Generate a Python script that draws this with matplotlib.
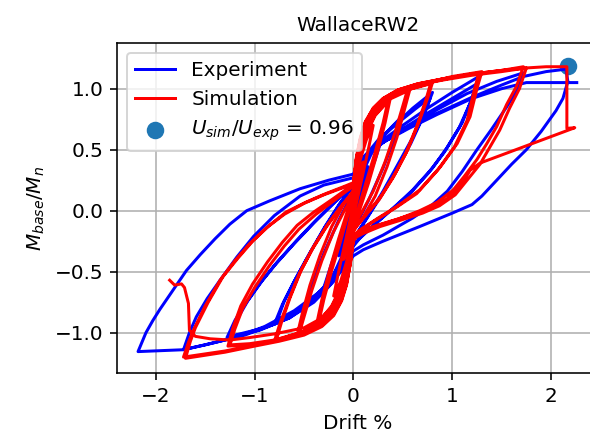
import numpy as np
import matplotlib
matplotlib.use("Agg")
import matplotlib.pyplot as plt

# Experiment cycles, (drift %, M_base/M_n)
exp_cycle_1 = [(0, 0), (0.05, 0.13), (0.1, 0.26), (0.15, 0.36), (0.1, 0.22), (0.04, 0.06), (0, -0.02),
               (-0.05, -0.15), (-0.1, -0.27), (-0.15, -0.37), (-0.1, -0.23), (-0.04, -0.06), (0, 0.02)]
exp_cycle_2 = [(0.05, 0.18), (0.12, 0.36), (0.2, 0.5), (0.3, 0.62), (0.22, 0.42), (0.12, 0.2), (0.04, 0.0),
               (0, -0.08), (-0.05, -0.2), (-0.12, -0.38), (-0.2, -0.52), (-0.3, -0.63), (-0.22, -0.43),
               (-0.12, -0.2), (-0.04, 0.0), (0, 0.08)]
exp_cycle_3 = [(0.05, 0.25), (0.12, 0.4), (0.25, 0.56), (0.38, 0.68), (0.5, 0.78), (0.42, 0.6), (0.3, 0.35),
               (0.15, 0.08), (0.05, -0.08), (0, -0.15), (-0.05, -0.28), (-0.12, -0.42), (-0.25, -0.58),
               (-0.38, -0.7), (-0.5, -0.8), (-0.42, -0.6), (-0.3, -0.35), (-0.15, -0.08), (-0.05, 0.08), (0, 0.15)]
exp_cycle_4 = [(0.05, 0.3), (0.12, 0.43), (0.25, 0.57), (0.4, 0.69), (0.6, 0.84), (0.8, 0.97), (0.72, 0.8),
               (0.6, 0.6), (0.45, 0.38), (0.3, 0.16), (0.15, -0.04), (0.05, -0.17), (0, -0.23), (-0.06, -0.35),
               (-0.15, -0.48), (-0.3, -0.63), (-0.5, -0.78), (-0.8, -0.93), (-0.72, -0.77), (-0.6, -0.58),
               (-0.45, -0.36), (-0.3, -0.15), (-0.15, 0.04), (-0.05, 0.15), (0, 0.2)]
exp_cycle_5 = [(0.05, 0.32), (0.12, 0.45), (0.25, 0.58), (0.42, 0.7), (0.62, 0.83), (0.78, 0.93), (0.7, 0.76),
               (0.58, 0.55), (0.43, 0.33), (0.28, 0.12), (0.13, -0.07), (0.04, -0.18), (0, -0.25),
               (-0.06, -0.37), (-0.15, -0.5), (-0.3, -0.65), (-0.5, -0.8), (-0.78, -0.92), (-0.7, -0.74),
               (-0.58, -0.55), (-0.43, -0.33), (-0.28, -0.12), (-0.13, 0.07), (-0.04, 0.17), (0, 0.22)]
exp_cycle_6 = [(0.05, 0.35), (0.15, 0.47), (0.3, 0.58), (0.5, 0.7), (0.75, 0.84), (1.0, 0.97), (1.27, 1.1),
               (1.2, 0.92), (1.1, 0.72), (0.95, 0.52), (0.8, 0.35), (0.6, 0.17), (0.4, 0.02), (0.2, -0.12),
               (0.07, -0.22), (0, -0.28), (-0.08, -0.42), (-0.2, -0.57), (-0.4, -0.74), (-0.65, -0.88),
               (-0.95, -0.98), (-1.28, -1.04), (-1.2, -0.9), (-1.1, -0.77), (-0.95, -0.6), (-0.8, -0.45),
               (-0.6, -0.27), (-0.4, -0.1), (-0.2, 0.06), (-0.05, 0.18), (0, 0.22)]
exp_cycle_7 = [(0.05, 0.34), (0.15, 0.45), (0.3, 0.56), (0.5, 0.67), (0.75, 0.8), (1.0, 0.92), (1.25, 1.04),
               (1.18, 0.88), (1.07, 0.68), (0.92, 0.48), (0.76, 0.31), (0.56, 0.13), (0.36, -0.01),
               (0.18, -0.14), (0.06, -0.23), (0, -0.29), (-0.08, -0.43), (-0.2, -0.58), (-0.4, -0.75),
               (-0.65, -0.88), (-0.95, -0.97), (-1.25, -1.03), (-1.17, -0.88), (-1.07, -0.74), (-0.92, -0.57),
               (-0.77, -0.42), (-0.57, -0.24), (-0.37, -0.07), (-0.18, 0.08), (-0.05, 0.19), (0, 0.23)]
exp_cycle_8 = [(0.05, 0.36), (0.15, 0.46), (0.3, 0.56), (0.55, 0.69), (0.85, 0.83), (1.15, 0.96), (1.45, 1.06),
               (1.72, 1.13), (1.65, 0.98), (1.55, 0.85), (1.4, 0.67), (1.25, 0.5), (1.1, 0.32), (0.95, 0.16),
               (0.8, 0.05), (0.6, -0.06), (0.3, -0.2), (0.1, -0.28), (0, -0.33), (-0.1, -0.46),
               (-0.25, -0.62), (-0.5, -0.8), (-0.8, -0.93), (-1.1, -1.02), (-1.4, -1.08), (-1.72, -1.14),
               (-1.66, -1.0), (-1.59, -0.87), (-1.48, -0.72), (-1.35, -0.57), (-1.18, -0.38), (-1.01, -0.21),
               (-0.8, -0.04), (-0.54, 0.12), (-0.3, 0.21), (0, 0.27)]
exp_cycle_9 = [(0.05, 0.38), (0.15, 0.47), (0.3, 0.56), (0.55, 0.68), (0.85, 0.8), (1.2, 0.93), (1.5, 1.03),
               (1.72, 1.1), (1.95, 1.14), (2.15, 1.16), (2.17, 1.06), (2.12, 0.92), (2.05, 0.82), (1.9, 0.65),
               (1.75, 0.5), (1.6, 0.38), (1.45, 0.25), (1.3, 0.12), (1.2, 0.05), (1.0, -0.02), (0.67, -0.13),
               (0.3, -0.25), (0.1, -0.32), (0, -0.37), (-0.1, -0.48), (-0.3, -0.64), (-0.6, -0.82),
               (-0.9, -0.95), (-1.2, -1.04), (-1.5, -1.1), (-1.73, -1.14), (-2.18, -1.155), (-2.1, -1.0),
               (-2.03, -0.9), (-1.96, -0.81), (-1.85, -0.68), (-1.69, -0.49), (-1.55, -0.36), (-1.4, -0.23),
               (-1.25, -0.11), (-1.08, 0.0), (-0.85, 0.08), (-0.54, 0.18), (-0.25, 0.25), (0, 0.3)]
exp_cycle_10 = [(0.05, 0.4), (0.15, 0.48), (0.3, 0.56), (0.55, 0.67), (0.85, 0.79), (1.2, 0.92), (1.5, 1.0),
                (1.75, 1.05), (2.26, 1.05)]

# Simulation cycles
sim_cycle_1 = [(0, 0), (0.03, 0.15), (0.06, 0.28), (0.1, 0.4), (0.07, 0.27), (0.03, 0.1), (0, 0),
               (-0.03, -0.15), (-0.06, -0.28), (-0.1, -0.4), (-0.07, -0.27), (-0.03, -0.1), (0, 0)]
sim_cycle_2 = [(0.03, 0.25), (0.07, 0.42), (0.13, 0.58), (0.2, 0.7), (0.15, 0.5), (0.09, 0.28), (0.03, 0.06),
               (0, -0.04), (-0.03, -0.25), (-0.07, -0.42), (-0.13, -0.58), (-0.2, -0.7), (-0.15, -0.5),
               (-0.09, -0.28), (-0.03, -0.06), (0, 0.04)]
sim_cycle_3 = [(0.03, 0.3), (0.07, 0.48), (0.13, 0.63), (0.22, 0.78), (0.35, 0.9), (0.3, 0.72), (0.22, 0.48),
               (0.13, 0.24), (0.05, 0.02), (0, -0.08), (-0.03, -0.3), (-0.07, -0.48), (-0.13, -0.63),
               (-0.22, -0.78), (-0.35, -0.91), (-0.3, -0.73), (-0.22, -0.49), (-0.13, -0.25), (-0.05, -0.02),
               (0, 0.08)]
sim_cycle_4 = [(0.03, 0.32), (0.07, 0.5), (0.13, 0.65), (0.22, 0.79), (0.37, 0.91), (0.32, 0.72), (0.24, 0.47),
               (0.15, 0.22), (0.06, 0.0), (0, -0.1), (-0.03, -0.32), (-0.07, -0.5), (-0.13, -0.65),
               (-0.22, -0.79), (-0.37, -0.92), (-0.32, -0.73), (-0.24, -0.48), (-0.15, -0.23), (-0.06, 0.0),
               (0, 0.1)]
sim_cycle_5 = [(0.03, 0.35), (0.07, 0.52), (0.12, 0.66), (0.2, 0.79), (0.32, 0.9), (0.55, 1.0), (0.5, 0.86),
               (0.42, 0.64), (0.32, 0.4), (0.2, 0.16), (0.08, -0.02), (0, -0.12), (-0.03, -0.35),
               (-0.07, -0.52), (-0.12, -0.66), (-0.2, -0.79), (-0.32, -0.9), (-0.55, -1.01), (-0.5, -0.87),
               (-0.42, -0.65), (-0.32, -0.41), (-0.2, -0.17), (-0.08, 0.02), (0, 0.12)]
sim_cycle_6 = [(0.03, 0.37), (0.07, 0.54), (0.12, 0.67), (0.2, 0.8), (0.33, 0.9), (0.57, 0.99), (0.52, 0.84),
               (0.44, 0.6), (0.34, 0.36), (0.22, 0.12), (0.1, -0.05), (0, -0.14), (-0.03, -0.37),
               (-0.07, -0.54), (-0.12, -0.67), (-0.2, -0.8), (-0.33, -0.91), (-0.57, -1.02), (-0.52, -0.85),
               (-0.44, -0.61), (-0.34, -0.37), (-0.22, -0.13), (-0.1, 0.05), (0, 0.14)]
sim_cycle_7 = [(0.03, 0.38), (0.07, 0.55), (0.12, 0.68), (0.2, 0.8), (0.32, 0.9), (0.5, 0.98), (0.8, 1.05),
               (0.75, 0.92), (0.66, 0.72), (0.55, 0.5), (0.42, 0.3), (0.28, 0.12), (0.14, -0.02),
               (0.04, -0.12), (0, -0.16), (-0.03, -0.38), (-0.07, -0.55), (-0.12, -0.68), (-0.2, -0.8),
               (-0.32, -0.9), (-0.5, -0.99), (-0.8, -1.07), (-0.75, -0.94), (-0.66, -0.74), (-0.55, -0.52),
               (-0.42, -0.32), (-0.28, -0.14), (-0.14, 0.02), (-0.04, 0.12), (0, 0.16)]
sim_cycle_8 = [(0.03, 0.4), (0.07, 0.56), (0.12, 0.69), (0.2, 0.81), (0.32, 0.91), (0.5, 0.98), (0.78, 1.04),
               (0.73, 0.9), (0.64, 0.69), (0.53, 0.47), (0.4, 0.27), (0.26, 0.09), (0.12, -0.04),
               (0.03, -0.13), (0, -0.17), (-0.03, -0.4), (-0.07, -0.56), (-0.12, -0.69), (-0.2, -0.81),
               (-0.32, -0.91), (-0.5, -0.99), (-0.78, -1.06), (-0.73, -0.92), (-0.64, -0.71), (-0.53, -0.49),
               (-0.4, -0.29), (-0.26, -0.11), (-0.12, 0.04), (-0.03, 0.13), (0, 0.17)]
sim_cycle_9 = [(0.03, 0.4), (0.07, 0.57), (0.12, 0.7), (0.2, 0.82), (0.3, 0.9), (0.45, 0.97), (0.7, 1.04),
               (1.0, 1.1), (1.3, 1.14), (1.25, 1.0), (1.18, 0.77), (1.05, 0.55), (0.88, 0.36), (0.67, 0.17),
               (0.45, 0.04), (0.25, -0.06), (0.08, -0.15), (0, -0.2), (-0.03, -0.4), (-0.07, -0.58),
               (-0.12, -0.71), (-0.2, -0.83), (-0.32, -0.92), (-0.5, -0.99), (-0.8, -1.06), (-1.05, -1.09),
               (-1.25, -1.1), (-1.2, -0.97), (-1.12, -0.8), (-1.0, -0.63), (-0.85, -0.45), (-0.7, -0.29),
               (-0.55, -0.15), (-0.38, -0.03), (-0.2, 0.08), (-0.07, 0.16), (0, 0.2)]
sim_cycle_10 = [(0.03, 0.42), (0.07, 0.58), (0.12, 0.71), (0.2, 0.83), (0.3, 0.9), (0.45, 0.97), (0.7, 1.04),
                (1.0, 1.09), (1.27, 1.13), (1.22, 0.98), (1.15, 0.74), (1.02, 0.52), (0.85, 0.33),
                (0.64, 0.14), (0.42, 0.02), (0.22, -0.08), (0.07, -0.16), (0, -0.21), (-0.03, -0.42),
                (-0.07, -0.59), (-0.12, -0.72), (-0.2, -0.84), (-0.32, -0.93), (-0.5, -1.0), (-0.8, -1.07),
                (-1.05, -1.1), (-1.27, -1.11), (-1.22, -0.96), (-1.14, -0.78), (-1.02, -0.6), (-0.87, -0.42),
                (-0.72, -0.26), (-0.57, -0.12), (-0.4, -0.01), (-0.22, 0.09), (-0.08, 0.17), (0, 0.21)]
sim_cycle_11 = [(0.03, 0.42), (0.07, 0.58), (0.12, 0.72), (0.2, 0.84), (0.3, 0.92), (0.45, 0.99), (0.65, 1.04),
                (0.9, 1.08), (1.2, 1.12), (1.5, 1.15), (1.72, 1.18), (1.65, 1.02), (1.55, 0.87), (1.45, 0.69),
                (1.35, 0.55), (1.25, 0.42), (1.12, 0.28), (1.01, 0.17), (0.85, 0.07), (0.67, 0.0),
                (0.45, -0.07), (0.25, -0.12), (0.08, -0.18), (0, -0.22), (-0.03, -0.42), (-0.07, -0.6),
                (-0.12, -0.73), (-0.2, -0.85), (-0.32, -0.94), (-0.5, -1.01), (-0.75, -1.06), (-1.0, -1.1),
                (-1.3, -1.15), (-1.72, -1.2), (-1.67, -1.08), (-1.62, -0.98), (-1.5, -0.78), (-1.35, -0.57),
                (-1.2, -0.41), (-1.05, -0.27), (-0.88, -0.14), (-0.7, -0.03), (-0.5, 0.06), (-0.3, 0.13),
                (-0.1, 0.19), (0, 0.22)]
sim_cycle_12 = [(0.03, 0.43), (0.07, 0.59), (0.12, 0.72), (0.2, 0.83), (0.3, 0.91), (0.45, 0.98), (0.65, 1.03),
                (0.9, 1.07), (1.2, 1.11), (1.5, 1.14), (1.75, 1.17), (1.68, 1.0), (1.58, 0.84), (1.48, 0.66),
                (1.38, 0.52), (1.28, 0.38), (1.15, 0.25), (1.03, 0.13), (0.87, 0.04), (0.7, -0.02),
                (0.47, -0.08), (0.27, -0.13), (0.09, -0.19), (0, -0.23), (-0.03, -0.43), (-0.07, -0.61),
                (-0.12, -0.74), (-0.2, -0.86), (-0.32, -0.95), (-0.5, -1.02), (-0.75, -1.07), (-1.0, -1.11),
                (-1.3, -1.16), (-1.7, -1.21), (-1.65, -1.07), (-1.6, -0.96), (-1.47, -0.75), (-1.32, -0.54),
                (-1.17, -0.39), (-1.02, -0.25), (-0.85, -0.12), (-0.68, -0.01), (-0.48, 0.07), (-0.28, 0.14),
                (-0.09, 0.2), (0, 0.23)]
sim_cycle_13 = [(0.03, 0.44), (0.07, 0.6), (0.12, 0.73), (0.2, 0.84), (0.3, 0.92), (0.45, 0.99), (0.65, 1.04),
                (0.9, 1.08), (1.2, 1.12), (1.5, 1.15), (1.75, 1.17), (1.95, 1.18), (2.16, 1.18), (2.16, 0.675),
                (2.24, 0.68), (1.28, 0.39), (1.18, 0.33), (1.08, 0.2), (0.95, 0.1), (0.88, 0.06), (0.6, -0.03),
                (0.4, -0.08), (0.2, -0.13), (0.07, -0.16), (0, -0.25), (-0.05, -0.45), (-0.12, -0.65),
                (-0.2, -0.78), (-0.32, -0.88), (-0.5, -0.96), (-0.8, -1.01), (-1.05, -1.04), (-1.25, -1.06),
                (-1.45, -1.05), (-1.6, -1.03), (-1.66, -0.98), (-1.67, -0.76), (-1.71, -0.63), (-1.74, -0.6),
                (-1.81, -0.61), (-1.86, -0.57)]

# Ultimate point marker and energy ratio
u_drift = [2.17]
u_moment = [1.19]
energy_ratio = 0.96

exp_cycles = [exp_cycle_1, exp_cycle_2, exp_cycle_3, exp_cycle_4, exp_cycle_5,
              exp_cycle_6, exp_cycle_7, exp_cycle_8, exp_cycle_9, exp_cycle_10]
sim_cycles = [sim_cycle_1, sim_cycle_2, sim_cycle_3, sim_cycle_4, sim_cycle_5, sim_cycle_6, sim_cycle_7,
              sim_cycle_8, sim_cycle_9, sim_cycle_10, sim_cycle_11, sim_cycle_12, sim_cycle_13]
exp_xy = np.array([p for c in exp_cycles for p in c])
sim_xy = np.array([p for c in sim_cycles for p in c])

fig = plt.figure(figsize=(590 / 144, 442 / 144), dpi=144)
ax = fig.add_axes([0.1988, 0.1554, 0.8156, 0.748])

ax.plot(exp_xy[:, 0], exp_xy[:, 1], color='blue', label='Experiment')
ax.plot(sim_xy[:, 0], sim_xy[:, 1], color='red', label='Simulation')
ax.scatter(u_drift, u_moment, s=60, color='tab:blue', zorder=1.5,
           label=r'$U_{sim}/U_{exp}$ = %.2f' % energy_ratio)

ax.set_xlim(-2.39, 2.48)
ax.set_ylim(-1.333, 1.377)
ax.set_xticks([-2, -1, 0, 1, 2])
ax.set_yticks([-1.0, -0.5, 0.0, 0.5, 1.0])
ax.grid(True)
ax.set_title('WallaceRW2', fontsize=10)
ax.set_xlabel('Drift %')
ax.set_ylabel(r'$M_{base}/M_n$')
ax.legend(loc='upper left')

fig.savefig('out.png', dpi=144)
